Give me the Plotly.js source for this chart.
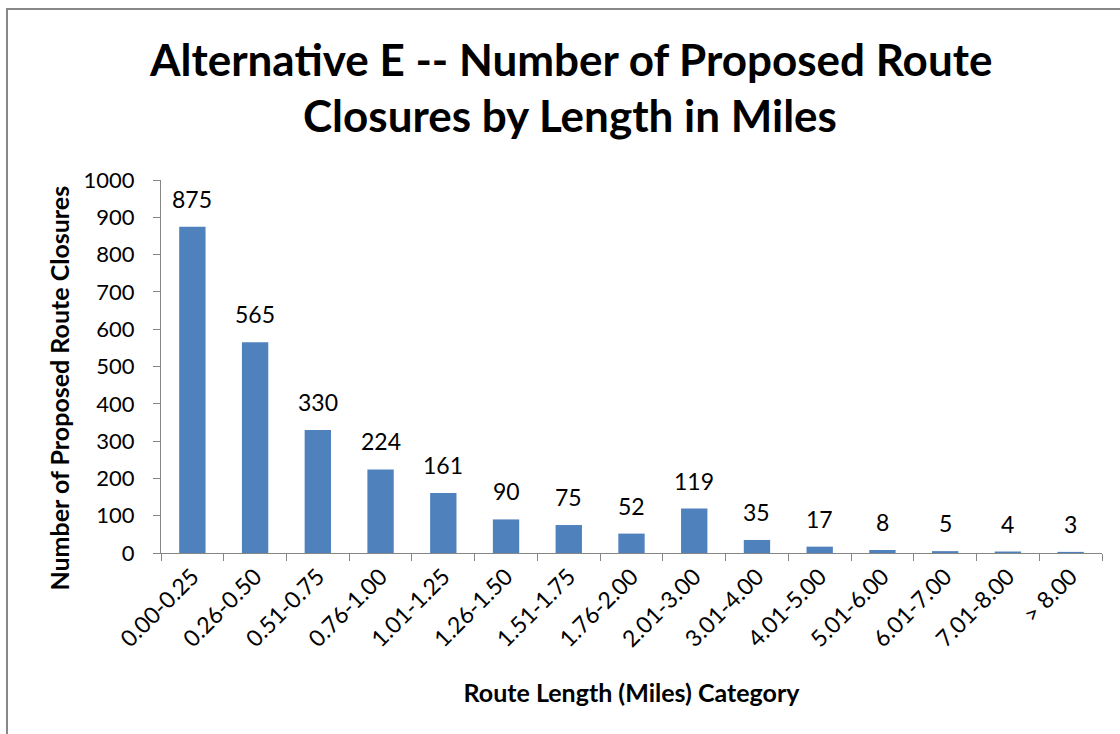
<!DOCTYPE html>
<html>
<head>
<meta charset="utf-8">
<script src="https://cdn.plot.ly/plotly-3.0.1.min.js"></script>
<style>
html,body{margin:0;padding:0;background:#fff;}
body{width:1120px;height:734px;overflow:hidden;position:relative;}
#chart{width:1120px;height:734px;position:absolute;left:0;top:0;}
#frame{position:absolute;left:6px;top:8px;width:1200px;height:800px;border:2px solid #888;pointer-events:none;}
</style>
</head>
<body>
<div id="chart"></div>
<div id="frame"></div>
<script>
const categories = ["0.00-0.25","0.26-0.50","0.51-0.75","0.76-1.00","1.01-1.25","1.26-1.50","1.51-1.75","1.76-2.00","2.01-3.00","3.01-4.00","4.01-5.00","5.01-6.00","6.01-7.00","7.01-8.00","> 8.00"];
const closures = [875,565,330,224,161,90,75,52,119,35,17,8,5,4,3];
const yTicks = [0,100,200,300,400,500,600,700,800,900,1000];
const titleLines = ["Alternative E -- Number of Proposed Route", "Closures by Length in Miles"];
const xTitle = "Route Length (Miles) Category";
const yTitle = "Number of Proposed Route Closures";

const font = "Lato, 'Open Sans', sans-serif";
const trace = {
  type: "bar",
  x: categories,
  y: closures,
  marker: {color: "#4F81BD"},
  hoverinfo: "x+y"
};

const valueLabels = categories.map((c, i) => ({
  x: c, y: closures[i], xref: "x", yref: "y",
  text: String(closures[i]), showarrow: false,
  xanchor: "center", yanchor: "bottom", yshift: 12,
  font: {family: font, size: 23, color: "#000"}
}));

const layout = {
  width: 1120, height: 734,
  margin: {l: 161, r: 18, t: 180, b: 181},
  paper_bgcolor: "#fff", plot_bgcolor: "#fff",
  bargap: 0.58,
  showlegend: false,
  annotations: [
    {text: "<b>" + titleLines[0] + "</b>", xref: "paper", yref: "paper", x: 0.435, y: 1.324,
     xanchor: "center", yanchor: "middle", showarrow: false, font: {family: font, size: 44, color: "#000"}},
    {text: "<b>" + titleLines[1] + "</b>", xref: "paper", yref: "paper", x: 0.435, y: 1.174,
     xanchor: "center", yanchor: "middle", showarrow: false, font: {family: font, size: 44, color: "#000"}},
    {text: "<b>" + yTitle + "</b>", xref: "paper", yref: "paper", x: -0.108, y: 0.442, textangle: -90,
     xanchor: "center", yanchor: "middle", showarrow: false, font: {family: font, size: 25, color: "#000"}}
  ].concat(valueLabels),
  xaxis: {
    type: "category",
    tickangle: -45,
    tickson: "boundaries",
    ticks: "outside", ticklen: 7, tickcolor: "#868686",
    showline: true, linecolor: "#868686", linewidth: 1,
    showgrid: false, zeroline: false,
    tickfont: {family: font, size: 23, color: "#000"},
    title: {text: "<b>" + xTitle + "</b>", font: {family: font, size: 25, color: "#000"}, standoff: 33}
  },
  yaxis: {
    range: [0, 1000],
    tickvals: yTicks,
    ticks: "outside", ticklen: 7, tickcolor: "#868686",
    ticklabelstandoff: 14,
    showline: true, linecolor: "#868686", linewidth: 1,
    showgrid: false, zeroline: false,
    tickfont: {family: font, size: 22, color: "#000"}
  }
};
Plotly.newPlot("chart", [trace], layout, {displayModeBar: false, staticPlot: true});
</script>
</body>
</html>
